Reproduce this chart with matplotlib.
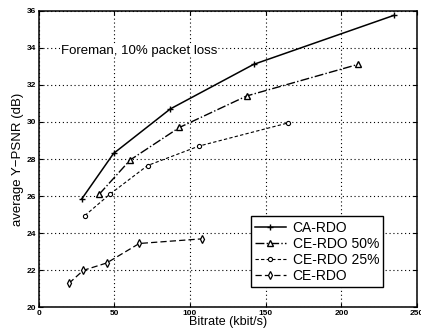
import matplotlib
matplotlib.use("Agg")
from matplotlib import pyplot as plt

# data
ca_rate = [28.5, 49.5, 87, 142, 235]
ca_psnr = [25.85, 28.3, 30.7, 33.1, 35.75]

ce50_rate = [40, 60.5, 93, 137.5, 211]
ce50_psnr = [26.1, 27.95, 29.7, 31.4, 33.1]

ce25_rate = [30.5, 47, 72, 106, 165]
ce25_psnr = [24.95, 26.1, 27.65, 28.7, 29.95]

ce_rate = [20, 29.5, 45, 66.5, 108]
ce_psnr = [21.3, 22.0, 22.4, 23.45, 23.7]

x_ticks = [0, 50, 100, 150, 200, 250]
y_ticks = [20, 22, 24, 26, 28, 30, 32, 34, 36]

plt.rcParams['font.family'] = ['Liberation Sans', 'DejaVu Sans']

fig = plt.figure(figsize=(4.21, 3.31), dpi=100)
ax = fig.add_axes([0.0917, 0.071, 0.8988, 0.897])

ax.plot(ca_rate, ca_psnr, '-', color='black', lw=1.1, marker='+', ms=4,
        mew=1.0, label='CA-RDO')
ax.plot(ce50_rate, ce50_psnr, '-.', color='black', lw=1.0, marker='^', ms=4,
        mfc='white', mec='black', mew=1.0, label='CE-RDO 50%')
ax.plot(ce25_rate, ce25_psnr, '--', color='black', lw=0.8, marker='o', ms=3,
        mfc='white', mec='black', mew=0.8, dashes=(3, 2), label='CE-RDO 25%')
ax.plot(ce_rate, ce_psnr, '--', color='black', lw=0.9, marker='d', ms=4,
        mfc='white', mec='black', mew=0.9, dashes=(5, 2.5), label='CE-RDO')

ax.set_xlim(0, 250)
ax.set_ylim(20, 36)
ax.set_xticks(x_ticks)
ax.set_yticks(y_ticks)
ax.tick_params(direction='in', top=True, right=True, labelsize=6, length=3,
               pad=2)
for lab in ax.get_xticklabels() + ax.get_yticklabels():
    lab.set_fontweight('bold')
ax.grid(True, linestyle=(0, (1, 2.5)), color='black', lw=0.8)
for sp in ax.spines.values():
    sp.set_linewidth(1.1)

ax.set_xlabel('Bitrate (kbit/s)', fontsize=9, labelpad=-1)
ax.set_ylabel('average Y\u2212PSNR (dB)', fontsize=9.5, labelpad=2)

ax.text(0.058, 0.865, 'Foreman, 10% packet loss', transform=ax.transAxes,
        fontsize=9.5, va='center', ha='left',
        bbox=dict(facecolor='white', edgecolor='none', pad=0.5))

leg = ax.legend(loc='lower left', bbox_to_anchor=(0.561, 0.069), fontsize=10,
                fancybox=False, framealpha=1, edgecolor='black',
                borderpad=0.3, labelspacing=0.15, handlelength=2.2,
                handletextpad=0.5, borderaxespad=0)
leg.get_frame().set_linewidth(1.0)

fig.savefig('out.png', dpi=100)
